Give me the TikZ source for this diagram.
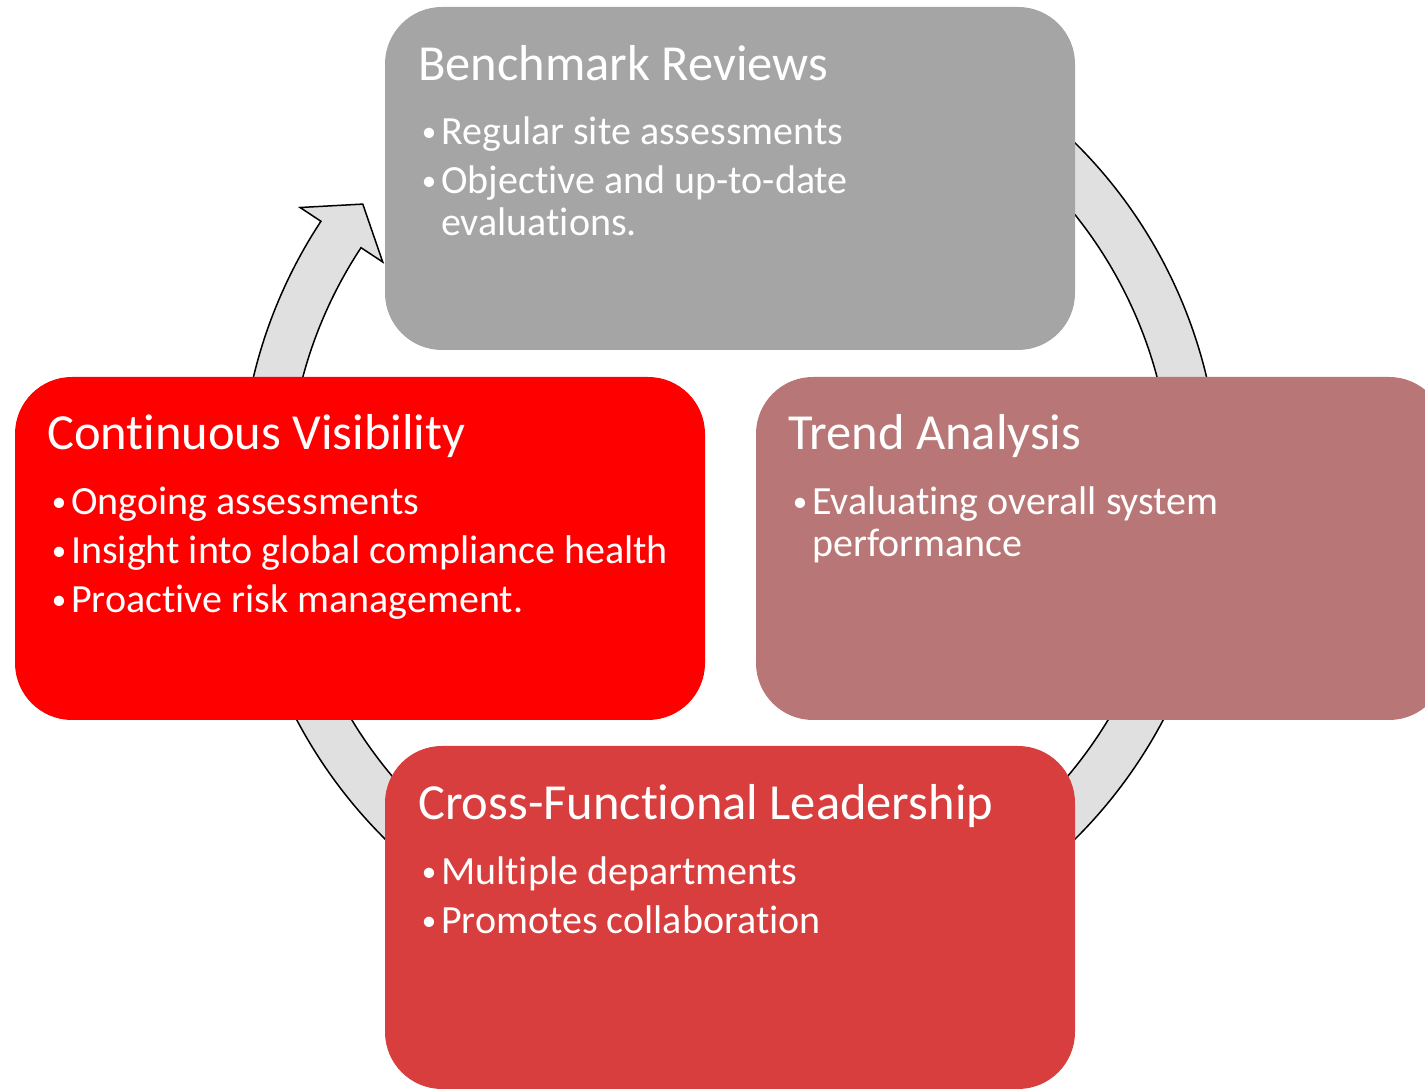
\documentclass[tikz,border=0pt]{standalone}
\usepackage{fontspec}
\setmainfont{Carlito}[Ligatures={NoCommon,NoContextual}]
\usetikzlibrary{calc}
\definecolor{benchgray}{HTML}{A5A5A5}
\definecolor{trendrose}{HTML}{B87776}
\definecolor{visred}{HTML}{FF0000}
\definecolor{crossred}{HTML}{D83E3E}
\definecolor{ringgray}{HTML}{E0E0E0}
\begin{document}
\begin{tikzpicture}[x=1pt,y=1pt,
  box/.style={draw=none, rounded corners=57pt, inner sep=0pt, minimum width=690pt, minimum height=343pt},
  ttl/.style={anchor=base west, inner sep=0pt, text=white, font=\fontsize{50.5}{60}\selectfont},
  itm/.style={anchor=base west, inner sep=0pt, text=white, font=\fontsize{40}{48}\selectfont},
  dotb/.style={anchor=base, inner sep=0pt, text=white, font=\fontsize{29}{34}\selectfont},
  ring/.style={fill=ringgray, draw=black, line width=1.5pt, line join=miter}]
\useasboundingbox (0,0) rectangle (1425,1089);
\coordinate (C) at (730,598);
% cycle ring with arrow head
\draw[ring] ($(C)+(60:490)$) arc[start angle=60, end angle=-213.4, radius=490]
  -- ($(C)+(146.6:515)$) -- ($(C)+(142:466)$) -- ($(C)+(146.6:416)$)
  -- ($(C)+(146.6:442)$) arc[start angle=-213.4, end angle=60, radius=442] -- cycle;
% boxes
\node[box, fill=benchgray] (bench) at (730,910.5) {};
\node[box, fill=visred] (vis) at (360,540.5) {};
\node[box, fill=trendrose] (trend) at (1101,540.5) {};
\node[box, fill=crossred] (cross) at (730,171.5) {};
% Benchmark Reviews
\node[ttl] (t1) at (418,1008) {Benchmark Reviews};
\node[dotb] (d1a) at (429,947) {\textbullet};
\node[itm] (i1a) at (441,944) {Regular site assessments};
\node[dotb] (d1b) at (429,898) {\textbullet};
\node[itm] (i1b) at (441,895) {Objective and up-to-date};
\node[itm] (i1c) at (441,853) {evaluations.};
% Continuous Visibility
\node[ttl] (t2) at (47,639) {Continuous Visibility};
\node[dotb] (d2a) at (59,577) {\textbullet};
\node[itm] (i2a) at (71,574) {Ongoing assessments};
\node[dotb] (d2b) at (59,528) {\textbullet};
\node[itm] (i2b) at (71,525) {Insight into global compliance health};
\node[dotb] (d2c) at (59,479) {\textbullet};
\node[itm] (i2c) at (71,476) {Proactive risk management.};
% Trend Analysis
\node[ttl] (t3) at (788,639) {Trend Analysis};
\node[dotb] (d3a) at (800,577) {\textbullet};
\node[itm] (i3a) at (812,574) {Evaluating overall system};
\node[itm] (i3b) at (812,532) {performance};
% Cross-Functional Leadership
\node[ttl] (t4) at (418,269) {Cross-Functional Leadership};
\node[dotb] (d4a) at (429,207) {\textbullet};
\node[itm] (i4a) at (441,204) {Multiple departments};
\node[dotb] (d4b) at (429,158) {\textbullet};
\node[itm] (i4b) at (441,155) {Promotes collaboration};
\end{tikzpicture}
\end{document}
